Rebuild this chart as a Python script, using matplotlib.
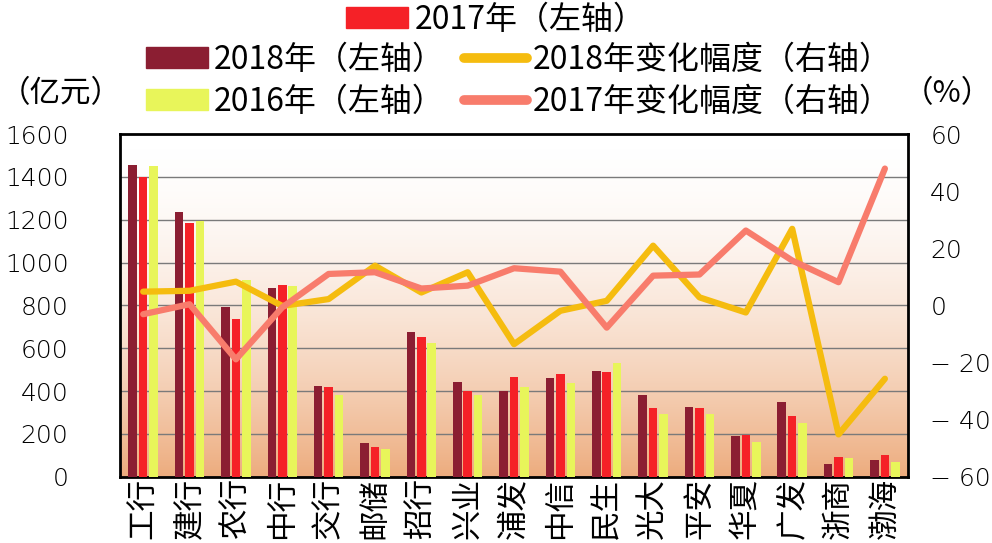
import matplotlib
matplotlib.use('Agg')
import matplotlib.pyplot as plt
import matplotlib.patches as mpatches
import matplotlib.lines as mlines
import numpy as np
from matplotlib.colors import LinearSegmentedColormap

plt.rcParams['font.family'] = ['Noto Sans CJK SC', 'DejaVu Sans']

# data
banks = ['工行', '建行', '农行', '中行', '交行', '邮储', '招行', '兴业', '浦发',
         '中信', '民生', '光大', '平安', '华夏', '广发', '浙商', '渤海']
v2018 = [1455, 1236, 790, 881, 425, 158, 676, 440, 401, 462, 492, 381, 325, 189, 351, 58, 80]
v2017 = [1400, 1184, 736, 895, 417, 141, 651, 400, 467, 481, 489, 322, 319, 197, 283, 94, 102]
v2016 = [1452, 1192, 918, 890, 380, 130, 622, 381, 420, 437, 533, 295, 294, 163, 252, 86, 70]
chg2018 = [4.8, 5.1, 8.3, -0.2, 2.2, 13.9, 4.5, 11.6, -13.6, -1.9, 1.6, 20.9, 2.8, -2.5, 26.8, -45.2, -25.7]
chg2017 = [-3.1, 0.4, -18.9, -0.7, 11.0, 11.6, 5.9, 6.9, 13.0, 11.8, -7.8, 10.4, 10.8, 26.2, 15.7, 8.1, 47.9]

left_ticks = [0, 200, 400, 600, 800, 1000, 1200, 1400, 1600]
right_ticks = [-60, -40, -20, 0, 20, 40, 60]
right_labels = ['− 60', '− 40', '− 20', '0', '20', '40', '60']

C2018 = '#8b1e32'
C2017 = '#f52127'
C2016 = '#e8f55a'
L2018 = '#f5bc0f'
L2017 = '#f87c6c'

num_font = dict(family=['DejaVu Sans'], fontsize=18, fontweight='light')

fig = plt.figure(figsize=(9.92, 5.43), dpi=100)
ax1 = fig.add_axes([0.121, 0.1221, 0.7944, 0.6311])

x = np.arange(len(banks))
n = len(banks)

# gradient background, white at the top to peach at the bottom
grad = np.linspace(0, 1, 256) ** 1.8
cmap = LinearSegmentedColormap.from_list('bg', ['#ffffff', '#edac7e'])
ax1.imshow(grad.reshape(-1, 1), aspect='auto', cmap=cmap, origin='upper',
           extent=[-0.5, n - 0.5, 0, 1600], zorder=0)

w = 0.185
off = 0.225
ax1.bar(x - off, v2018, w, color=C2018, zorder=3)
ax1.bar(x, v2017, w, color=C2017, zorder=3)
ax1.bar(x + off, v2016, w, color=C2016, zorder=3)

ax1.set_xlim(-0.5, n - 0.5)
ax1.set_ylim(0, 1600)
ax1.set_yticks(left_ticks)
ax1.set_yticklabels([str(v) for v in left_ticks], **num_font)
ax1.tick_params(axis='y', length=0, pad=37)
ax1.set_xticks(x)
ax1.set_xticklabels(banks, rotation=90, fontsize=22, fontweight='light')
ax1.tick_params(axis='x', length=0, pad=1)
for v in left_ticks[1:-1]:
    ax1.axhline(v, color='#7a7a7a', lw=1.0, zorder=1)
for s in ax1.spines.values():
    s.set_linewidth(2.0)
    s.set_color('black')

ax2 = ax1.twinx()
ax2.plot(x, chg2018, color=L2018, lw=4.5, solid_joinstyle='round',
         solid_capstyle='round', zorder=5)
ax2.plot(x, chg2017, color=L2017, lw=4.5, solid_joinstyle='round',
         solid_capstyle='round', zorder=5)
ax2.set_ylim(-60, 60)
ax2.set_yticks(right_ticks)
ax2.set_yticklabels(right_labels, **num_font)
ax2.tick_params(axis='y', length=0, pad=16)
for s in ax2.spines.values():
    s.set_visible(False)

# unit labels
fig.text(0.0, 0.828, '（亿元）', fontsize=22, fontweight='light', ha='left', va='center')
fig.text(1.0, 0.828, '（%）', fontsize=22, fontweight='light', ha='right', va='center')

# legends
h2017 = mpatches.Patch(color=C2017, label='2017年（左轴）')
h2018 = mpatches.Patch(color=C2018, label='2018年（左轴）')
h2016 = mpatches.Patch(color=C2016, label='2016年（左轴）')
hl2018 = mlines.Line2D([], [], color=L2018, lw=7, solid_capstyle='round',
                       label='2018年变化幅度（右轴）')
hl2017 = mlines.Line2D([], [], color=L2017, lw=7, solid_capstyle='round',
                       label='2017年变化幅度（右轴）')

leg_kw = dict(frameon=False, handlelength=1.95, handleheight=0.63,
              handletextpad=0.2, borderpad=0,
              prop=dict(size=23, weight='light'))
leg1 = fig.legend(handles=[h2017], loc='center', bbox_to_anchor=(0.5, 0.964),
                  **leg_kw)
leg2 = fig.legend(handles=[h2018, h2016, hl2018, hl2017], ncol=2, loc='center',
                  bbox_to_anchor=(0.523, 0.851), columnspacing=0.6,
                  labelspacing=0.3, **leg_kw)

fig.savefig('out.png', dpi=100)
